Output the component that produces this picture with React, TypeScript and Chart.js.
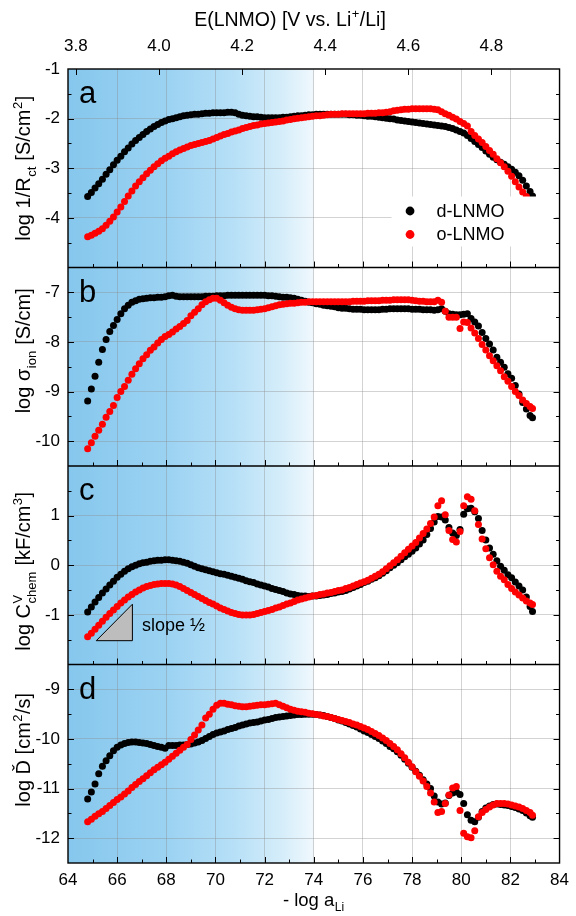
import React, { useEffect, useRef } from 'react';
import { Chart, registerables } from 'chart.js';

Chart.register(...registerables);

const FONT = '"Liberation Sans", Arial, Helvetica, sans-serif';

// -log a_Li of every measured state of charge
const X_LOG_A = [
  64.80, 64.95, 65.10, 65.25, 65.40, 65.55, 65.70, 65.85, 66.00, 66.15,
  66.30, 66.45, 66.60, 66.75, 66.90, 67.05, 67.20, 67.35, 67.50, 67.65,
  67.80, 67.95, 68.10, 68.25, 68.40, 68.55, 68.70, 68.85, 69.00, 69.15,
  69.30, 69.45, 69.60, 69.75, 69.90, 70.05, 70.20, 70.35, 70.50, 70.65,
  70.80, 70.95, 71.10, 71.25, 71.40, 71.55, 71.70, 71.85, 72.00, 72.15,
  72.30, 72.45, 72.60, 72.75, 72.90, 73.05, 73.20, 73.35, 73.50, 73.65,
  73.80, 73.95, 74.10, 74.25, 74.40, 74.55, 74.70, 74.85, 75.00, 75.15,
  75.30, 75.45, 75.60, 75.75, 75.90, 76.05, 76.20, 76.35, 76.50, 76.65,
  76.80, 76.95, 77.10, 77.25, 77.40, 77.55, 77.70, 77.85, 78.00, 78.15,
  78.30, 78.45, 78.60, 78.75, 78.90, 79.05, 79.20, 79.35, 79.50, 79.65,
  79.80, 79.95, 80.10, 80.25, 80.40, 80.55, 80.70, 80.85, 81.00, 81.15,
  81.30, 81.45, 81.60, 81.75, 81.90, 82.05, 82.20, 82.35, 82.50, 82.65,
  82.80, 82.90,
];

// (a) log 1/Rct [S/cm2]
const RCT_D = [
  -3.57, -3.49, -3.40, -3.31, -3.22, -3.12, -3.03, -2.93, -2.84, -2.76,
  -2.67, -2.59, -2.51, -2.44, -2.38, -2.32, -2.26, -2.21, -2.16, -2.12,
  -2.08, -2.05, -2.02, -2.00, -1.98, -1.96, -1.94, -1.93, -1.92, -1.91,
  -1.91, -1.90, -1.89, -1.89, -1.88, -1.88, -1.88, -1.88, -1.87, -1.87,
  -1.88, -1.91, -1.93, -1.94, -1.95, -1.96, -1.96, -1.97, -1.98, -1.98,
  -1.98, -1.98, -1.98, -1.97, -1.97, -1.96, -1.95, -1.94, -1.94, -1.93,
  -1.92, -1.92, -1.91, -1.91, -1.91, -1.91, -1.91, -1.91, -1.91, -1.91,
  -1.91, -1.92, -1.92, -1.93, -1.93, -1.94, -1.95, -1.95, -1.96, -1.97,
  -1.98, -1.99, -2.00, -2.01, -2.03, -2.04, -2.05, -2.06, -2.07, -2.08,
  -2.09, -2.10, -2.11, -2.12, -2.13, -2.14, -2.15, -2.16, -2.18, -2.20,
  -2.23, -2.26, -2.29, -2.34, -2.40, -2.46, -2.52, -2.58, -2.65, -2.72,
  -2.78, -2.83, -2.88, -2.92, -2.97, -3.02, -3.08, -3.15, -3.24, -3.36,
  -3.47, -3.56,
];
const RCT_O = [
  -4.38, -4.35, -4.31, -4.27, -4.22, -4.15, -4.07, -3.98, -3.88, -3.78,
  -3.67, -3.56, -3.46, -3.36, -3.27, -3.19, -3.11, -3.04, -2.97, -2.91,
  -2.85, -2.80, -2.76, -2.71, -2.67, -2.63, -2.60, -2.57, -2.54, -2.52,
  -2.50, -2.48, -2.46, -2.44, -2.41, -2.38, -2.35, -2.32, -2.30, -2.27,
  -2.25, -2.23, -2.20, -2.18, -2.16, -2.14, -2.13, -2.11, -2.10, -2.09,
  -2.08, -2.07, -2.06, -2.05, -2.03, -2.02, -2.00, -1.99, -1.98, -1.97,
  -1.96, -1.95, -1.94, -1.94, -1.93, -1.92, -1.91, -1.91, -1.91, -1.90,
  -1.90, -1.90, -1.90, -1.90, -1.90, -1.90, -1.89, -1.89, -1.89, -1.88,
  -1.88, -1.87, -1.86, -1.84, -1.83, -1.82, -1.81, -1.81, -1.80, -1.80,
  -1.80, -1.80, -1.80, -1.80, -1.81, -1.82, -1.86, -1.90, -1.93, -1.97,
  -2.01, -2.06, -2.10, -2.15, -2.26, -2.34, -2.41, -2.48, -2.56, -2.64,
  -2.72, -2.81, -2.89, -2.97, -3.06, -3.16, -3.27, -3.38, -3.48, -3.57,
  -3.66, -3.78,
];

// (b) log sigma_ion [S/cm]
const SIG_D = [
  -9.19, -8.95, -8.69, -8.41, -8.15, -7.95, -7.79, -7.67, -7.55, -7.43,
  -7.33, -7.26, -7.20, -7.17, -7.14, -7.13, -7.12, -7.11, -7.11, -7.10,
  -7.10, -7.09, -7.07, -7.06, -7.08, -7.09, -7.09, -7.09, -7.09, -7.09,
  -7.09, -7.09, -7.08, -7.08, -7.08, -7.07, -7.07, -7.07, -7.06, -7.06,
  -7.06, -7.06, -7.06, -7.06, -7.06, -7.06, -7.06, -7.06, -7.06, -7.07,
  -7.07, -7.08, -7.09, -7.10, -7.10, -7.11, -7.12, -7.14, -7.16, -7.18,
  -7.20, -7.21, -7.23, -7.24, -7.26, -7.27, -7.28, -7.29, -7.31, -7.32,
  -7.32, -7.33, -7.34, -7.34, -7.34, -7.35, -7.35, -7.35, -7.35, -7.35,
  -7.34, -7.34, -7.33, -7.33, -7.33, -7.33, -7.33, -7.33, -7.34, -7.34,
  -7.34, -7.35, -7.35, -7.35, -7.36, -7.35, -7.33, -7.38, -7.43, -7.44,
  -7.45, -7.45, -7.44, -7.43, -7.53, -7.60, -7.68, -7.81, -7.93, -8.04,
  -8.16, -8.31, -8.41, -8.51, -8.64, -8.73, -8.88, -9.05, -9.22, -9.35,
  -9.48, -9.53,
];
const SIG_O = [
  -10.15, -10.03, -9.90, -9.78, -9.66, -9.52, -9.40, -9.28, -9.12, -9.00,
  -8.90, -8.77, -8.65, -8.54, -8.44, -8.34, -8.26, -8.17, -8.10, -8.02,
  -7.95, -7.89, -7.85, -7.80, -7.74, -7.69, -7.63, -7.57, -7.47, -7.40,
  -7.33, -7.25, -7.19, -7.15, -7.12, -7.12, -7.16, -7.21, -7.26, -7.30,
  -7.33, -7.35, -7.36, -7.36, -7.36, -7.36, -7.35, -7.34, -7.33, -7.31,
  -7.29, -7.27, -7.25, -7.24, -7.23, -7.22, -7.22, -7.21, -7.20, -7.20,
  -7.19, -7.19, -7.19, -7.19, -7.19, -7.19, -7.19, -7.19, -7.19, -7.19,
  -7.19, -7.19, -7.18, -7.18, -7.18, -7.18, -7.17, -7.17, -7.17, -7.17,
  -7.16, -7.16, -7.16, -7.15, -7.15, -7.15, -7.15, -7.15, -7.16, -7.17,
  -7.18, -7.18, -7.19, -7.19, -7.19, -7.16, -7.20, -7.38, -7.50, -7.50,
  -7.50, -7.73, -7.60, -7.61, -7.72, -7.82, -7.93, -8.05, -8.16, -8.28,
  -8.38, -8.48, -8.58, -8.70, -8.79, -8.90, -9.00, -9.08, -9.17, -9.24,
  -9.30, -9.34,
];

// (c) log C_chem^V [kF/cm3]
const CAP_D = [
  -0.94, -0.84, -0.74, -0.65, -0.56, -0.48, -0.40, -0.32, -0.24, -0.18,
  -0.12, -0.07, -0.03, 0.00, 0.03, 0.05, 0.06, 0.08, 0.09, 0.10,
  0.10, 0.11, 0.11, 0.10, 0.09, 0.08, 0.06, 0.04, 0.01, -0.02,
  -0.05, -0.07, -0.09, -0.11, -0.13, -0.15, -0.17, -0.18, -0.20, -0.22,
  -0.24, -0.26, -0.28, -0.31, -0.33, -0.35, -0.38, -0.40, -0.42, -0.44,
  -0.47, -0.49, -0.51, -0.53, -0.56, -0.58, -0.59, -0.61, -0.62, -0.62,
  -0.63, -0.62, -0.62, -0.61, -0.60, -0.59, -0.57, -0.56, -0.54, -0.53,
  -0.51, -0.48, -0.45, -0.42, -0.39, -0.35, -0.32, -0.28, -0.25, -0.21,
  -0.16, -0.11, -0.05, 0.00, 0.05, 0.11, 0.17, 0.22, 0.28, 0.35,
  0.43, 0.51, 0.62, 0.74, 0.87, 0.98, 0.97, 0.91, 0.76, 0.65,
  0.60, 0.72, 1.03, 1.14, 1.15, 1.08, 0.94, 0.70, 0.51, 0.35,
  0.22, 0.09, -0.02, -0.10, -0.19, -0.25, -0.34, -0.42, -0.50, -0.64,
  -0.83, -0.93,
];
const CAP_O = [
  -1.44, -1.37, -1.29, -1.21, -1.13, -1.05, -0.97, -0.90, -0.83, -0.76,
  -0.70, -0.64, -0.59, -0.54, -0.50, -0.46, -0.43, -0.41, -0.39, -0.38,
  -0.37, -0.37, -0.37, -0.38, -0.40, -0.43, -0.47, -0.51, -0.55, -0.59,
  -0.63, -0.67, -0.71, -0.75, -0.78, -0.82, -0.86, -0.89, -0.92, -0.95,
  -0.97, -0.99, -1.00, -1.00, -1.00, -0.99, -0.97, -0.95, -0.93, -0.91,
  -0.89, -0.86, -0.84, -0.81, -0.78, -0.76, -0.73, -0.70, -0.68, -0.66,
  -0.64, -0.62, -0.61, -0.59, -0.58, -0.56, -0.55, -0.53, -0.51, -0.50,
  -0.47, -0.45, -0.42, -0.39, -0.36, -0.33, -0.30, -0.26, -0.22, -0.18,
  -0.13, -0.07, -0.01, 0.05, 0.11, 0.18, 0.25, 0.32, 0.39, 0.46,
  0.55, 0.64, 0.73, 0.84, 0.97, 1.20, 1.30, 1.02, 0.70, 0.52,
  0.47, 0.68, 1.20, 1.38, 1.33, 1.10, 0.82, 0.53, 0.33, 0.15,
  0.01, -0.12, -0.22, -0.29, -0.39, -0.47, -0.54, -0.60, -0.66, -0.72,
  -0.76, -0.79,
];

// (d) log D [cm2/s]
const DIF_D = [
  -11.21, -11.07, -10.91, -10.70, -10.55, -10.44, -10.34, -10.24, -10.17, -10.12,
  -10.09, -10.07, -10.06, -10.06, -10.07, -10.08, -10.09, -10.11, -10.13, -10.15,
  -10.17, -10.19, -10.13, -10.13, -10.13, -10.12, -10.12, -10.11, -10.10, -10.08,
  -10.06, -10.03, -9.99, -9.95, -9.91, -9.88, -9.86, -9.84, -9.81, -9.79,
  -9.77, -9.74, -9.72, -9.70, -9.68, -9.67, -9.66, -9.64, -9.62, -9.61,
  -9.59, -9.57, -9.56, -9.55, -9.54, -9.53, -9.52, -9.51, -9.51, -9.50,
  -9.50, -9.50, -9.51, -9.52, -9.53, -9.55, -9.57, -9.59, -9.62, -9.64,
  -9.67, -9.70, -9.73, -9.76, -9.80, -9.84, -9.87, -9.91, -9.95, -9.99,
  -10.04, -10.09, -10.15, -10.20, -10.26, -10.33, -10.41, -10.49, -10.57, -10.65,
  -10.73, -10.82, -10.91, -11.00, -11.15, -11.27, -11.31, -11.29, -11.14, -11.09,
  -11.07, -11.12, -11.30, -11.53, -11.64, -11.67, -11.58, -11.46, -11.39, -11.35,
  -11.32, -11.31, -11.32, -11.33, -11.34, -11.36, -11.38, -11.41, -11.44, -11.49,
  -11.55, -11.58,
];
const DIF_O = [
  -11.67, -11.62, -11.56, -11.51, -11.46, -11.40, -11.34, -11.28, -11.22, -11.17,
  -11.11, -11.05, -10.98, -10.92, -10.86, -10.80, -10.74, -10.68, -10.62, -10.57,
  -10.52, -10.47, -10.41, -10.35, -10.29, -10.23, -10.17, -10.11, -10.01, -9.92,
  -9.82, -9.72, -9.58, -9.50, -9.40, -9.32, -9.28, -9.28, -9.30, -9.31,
  -9.33, -9.34, -9.35, -9.35, -9.34, -9.33, -9.32, -9.31, -9.31, -9.30,
  -9.29, -9.28, -9.31, -9.34, -9.37, -9.40, -9.42, -9.44, -9.45, -9.46,
  -9.48, -9.49, -9.51, -9.52, -9.54, -9.55, -9.57, -9.59, -9.61, -9.63,
  -9.65, -9.67, -9.70, -9.72, -9.75, -9.78, -9.81, -9.85, -9.89, -9.93,
  -9.98, -10.03, -10.09, -10.15, -10.22, -10.30, -10.38, -10.47, -10.56, -10.66,
  -10.75, -10.85, -10.96, -11.09, -11.27, -11.48, -11.46, -11.30, -11.13, -10.99,
  -10.96, -11.44, -11.90, -11.97, -11.99, -11.85, -11.57, -11.48, -11.42, -11.37,
  -11.33, -11.30, -11.30, -11.30, -11.31, -11.33, -11.35, -11.37, -11.40, -11.44,
  -11.48, -11.54,
];

// axes
const X_RANGE = [64, 84];
const E_RANGE = [3.781, 4.964]; // potential at the two ends of the -log a_Li axis
const E_TICKS = [3.8, 4.0, 4.2, 4.4, 4.6, 4.8];
const RANGE_A = [-5, -1];
const RANGE_B = [-10.5, -6.5];
const RANGE_C = [-2, 2];
const RANGE_D = [-12.5, -8.5];
const LABELS_A = [-1, -2, -3, -4];
const LABELS_B = [-7, -8, -9, -10];
const LABELS_C = [1, 0, -1];
const LABELS_D = [-9, -10, -11, -12];
const BLUE_END = 74; // shaded region ends here

// slope-1/2 guide triangle in panel c
const TRI_X = [65.15, 66.62];
const TRI_Y0 = -1.52;
const TRI_SLOPE = 0.5;

const SERIES = ['d-LNMO', 'o-LNMO'];
const COLORS = ['#000000', '#ff0000'];

type Seg = { t?: string; sub?: string; sup?: string };

const PANELS = [
  {
    id: 'yA', letter: 'a', range: RANGE_A, labels: LABELS_A, d: RCT_D, o: RCT_O, shift: 0,
    title: [{ t: 'log 1/R' }, { sub: 'ct' }, { t: ' [S/cm' }, { sup: '2' }, { t: ']' }] as Seg[],
  },
  {
    id: 'yB', letter: 'b', range: RANGE_B, labels: LABELS_B, d: SIG_D, o: SIG_O, shift: -16,
    title: [{ t: 'log \u03c3' }, { sub: 'ion' }, { t: ' [S/cm]' }] as Seg[],
  },
  {
    id: 'yC', letter: 'c', range: RANGE_C, labels: LABELS_C, d: CAP_D, o: CAP_O, shift: 6,
    title: [{ t: 'log C' }, { sup: 'V', sub: 'chem' }, { t: ' [kF/cm' }, { sup: '3' }, { t: ']' }] as Seg[],
  },
  {
    id: 'yD', letter: 'd', range: RANGE_D, labels: LABELS_D, d: DIF_D, o: DIF_O, shift: -14,
    title: [{ t: 'log \u010e [cm' }, { sup: '2' }, { t: '/s]' }] as Seg[],
  },
];

const TOP_TITLE: Seg[] = [{ t: 'E(LNMO) [V vs. Li' }, { sup: '+' }, { t: '/Li]' }];
const BOTTOM_TITLE: Seg[] = [{ t: '- log a' }, { sub: 'Li' }];

const GRID = 'rgba(140,140,140,0.38)';
const CLEAR = 'rgba(0,0,0,0)';

function segWidth(ctx: CanvasRenderingContext2D, s: Seg, size: number, small: number) {
  if (s.t !== undefined) {
    ctx.font = `${size}px ${FONT}`;
    return ctx.measureText(s.t).width;
  }
  ctx.font = `${small}px ${FONT}`;
  const a = s.sup ? ctx.measureText(s.sup).width : 0;
  const b = s.sub ? ctx.measureText(s.sub).width : 0;
  return Math.max(a, b) + 1;
}

function drawRich(ctx: CanvasRenderingContext2D, segs: Seg[], cx: number, y: number, size: number) {
  const small = Math.round(size * 0.66);
  const total = segs.reduce((w, s) => w + segWidth(ctx, s, size, small), 0);
  let x = cx - total / 2;
  ctx.textAlign = 'left';
  ctx.textBaseline = 'alphabetic';
  for (const s of segs) {
    const w = segWidth(ctx, s, size, small);
    if (s.t !== undefined) {
      ctx.font = `${size}px ${FONT}`;
      ctx.fillText(s.t, x, y);
    } else {
      ctx.font = `${small}px ${FONT}`;
      if (s.sup) ctx.fillText(s.sup, x + 0.5, y - size * 0.42);
      if (s.sub) ctx.fillText(s.sub, x + 0.5, y + size * 0.28);
    }
    x += w;
  }
}

const decor = {
  id: 'decor',
  beforeDraw(chart: any) {
    const { ctx, chartArea: a, scales } = chart;
    const xEnd = scales.x.getPixelForValue(BLUE_END);
    const g = ctx.createLinearGradient(a.left, 0, xEnd, 0);
    g.addColorStop(0, '#86c7ed');
    g.addColorStop(0.4, '#9bd2f2');
    g.addColorStop(0.68, '#b7e0f7');
    g.addColorStop(0.88, '#d7eefa');
    g.addColorStop(1, '#f0f8fd');
    ctx.save();
    ctx.fillStyle = g;
    ctx.fillRect(a.left, a.top, xEnd - a.left, a.bottom - a.top);
    ctx.restore();
  },
  afterDraw(chart: any) {
    const { ctx, chartArea: a, scales } = chart;
    const x = scales.x;
    const top = scales.xTop;
    ctx.save();

    // legend in panel a
    const pa = scales.yA;
    ctx.fillStyle = '#ffffff';
    ctx.fillRect(a.right - 168, pa.bottom - 71, 164, 50);
    SERIES.forEach((name, i) => {
      const cy = pa.bottom - 56.5 + i * 23.5;
      ctx.fillStyle = COLORS[i];
      ctx.beginPath();
      ctx.arc(a.right - 149.5, cy, 4.4, 0, Math.PI * 2);
      ctx.fill();
      ctx.fillStyle = '#000';
      ctx.font = `18px ${FONT}`;
      ctx.textAlign = 'left';
      ctx.textBaseline = 'middle';
      ctx.fillText(name, a.right - 123, cy + 1);
    });

    // slope triangle in panel c
    const yc = scales.yC;
    const tx0 = x.getPixelForValue(TRI_X[0]);
    const tx1 = x.getPixelForValue(TRI_X[1]);
    const ty0 = yc.getPixelForValue(TRI_Y0);
    const ty1 = yc.getPixelForValue(TRI_Y0 + TRI_SLOPE * (TRI_X[1] - TRI_X[0]));
    ctx.beginPath();
    ctx.moveTo(tx0, ty0);
    ctx.lineTo(tx1, ty0);
    ctx.lineTo(tx1, ty1);
    ctx.closePath();
    ctx.fillStyle = '#bdbdbd';
    ctx.fill();
    ctx.strokeStyle = '#000';
    ctx.lineWidth = 1;
    ctx.stroke();
    ctx.fillStyle = '#000';
    ctx.font = `18px ${FONT}`;
    ctx.textAlign = 'left';
    ctx.textBaseline = 'alphabetic';
    ctx.fillText('slope \u00bd', tx1 + 9.5, ty0 - 10);

    // inward tick marks
    ctx.strokeStyle = '#000';
    ctx.lineWidth = 1;
    ctx.beginPath();
    PANELS.forEach((p) => {
      const s = scales[p.id];
      for (const t of s.ticks) {
        const v = t.value;
        if (v <= s.min || v >= s.max) continue;
        const py = Math.round(s.getPixelForValue(v)) + 0.5;
        const len = Number.isInteger(v) ? 6 : 3.5;
        ctx.moveTo(a.left, py);
        ctx.lineTo(a.left + len, py);
        ctx.moveTo(a.right, py);
        ctx.lineTo(a.right - len, py);
      }
      for (const t of x.ticks) {
        const v = t.value;
        if (v <= X_RANGE[0] || v >= X_RANGE[1]) continue;
        const px = Math.round(x.getPixelForValue(v)) + 0.5;
        const len = v % 2 === 0 ? 6 : 3.5;
        ctx.moveTo(px, s.bottom);
        ctx.lineTo(px, s.bottom - len);
      }
    });
    for (const t of top.ticks) {
      const px = Math.round(top.getPixelForValue(t.value)) + 0.5;
      ctx.moveTo(px, a.top);
      ctx.lineTo(px, a.top + 6);
    }
    ctx.stroke();

    // frame and panel separators
    ctx.lineWidth = 1.4;
    ctx.strokeRect(a.left, a.top, a.right - a.left, a.bottom - a.top);
    ctx.beginPath();
    PANELS.slice(0, 3).forEach((p) => {
      const yb = scales[p.id].bottom;
      ctx.moveTo(a.left, yb);
      ctx.lineTo(a.right, yb);
    });
    ctx.stroke();

    // panel letters and y titles
    ctx.fillStyle = '#000';
    PANELS.forEach((p) => {
      const s = scales[p.id];
      ctx.font = `31px ${FONT}`;
      ctx.textAlign = 'left';
      ctx.textBaseline = 'alphabetic';
      ctx.fillText(p.letter, a.left + 11, s.top + 34);
      ctx.save();
      ctx.translate(30, (s.top + s.bottom) / 2 + p.shift);
      ctx.rotate(-Math.PI / 2);
      drawRich(ctx, p.title, 0, 0, 20);
      ctx.restore();
    });

    drawRich(ctx, TOP_TITLE, a.left + 222, 26, 19.5);
    drawRich(ctx, BOTTOM_TITLE, (a.left + a.right) / 2, 906, 18.5);
    ctx.restore();
  },
};

function halfSteps(lo: number, hi: number) {
  const out: { value: number }[] = [];
  for (let k = Math.round(lo * 2); k <= Math.round(hi * 2); k++) out.push({ value: k / 2 });
  return out;
}

function panelScale(p: any, weight: number) {
  const [min, max] = p.range;
  return {
    type: 'linear',
    axis: 'y',
    position: 'left',
    stack: 'panels',
    stackWeight: 1,
    weight,
    min,
    max,
    afterBuildTicks: (s: any) => {
      s.ticks = halfSteps(min, max);
    },
    afterFit: (s: any) => {
      s.width = 68;
    },
    ticks: {
      autoSkip: false,
      padding: 8,
      color: '#000',
      font: { family: FONT, size: 17 },
      callback: (v: number) => (p.labels.includes(v) ? String(v) : ''),
    },
    grid: {
      drawTicks: false,
      color: (c: any) => {
        const v = c.tick && c.tick.value;
        return Number.isInteger(v) && v > min && v < max ? GRID : CLEAR;
      },
    },
    border: { display: false },
  };
}

export default function App() {
  const ref = useRef<HTMLCanvasElement | null>(null);

  useEffect(() => {
    if (!ref.current) return;
    const datasets: any[] = [];
    PANELS.forEach((p) => {
      [p.d, p.o].forEach((vals, i) => {
        datasets.push({
          label: `${SERIES[i]} ${p.letter}`,
          yAxisID: p.id,
          xAxisID: 'x',
          data: X_LOG_A.map((xv, k) => ({ x: xv, y: vals[k] })),
          backgroundColor: COLORS[i],
          borderColor: COLORS[i],
          pointRadius: 3.5,
          pointBorderWidth: 0,
          showLine: false,
          order: i === 0 ? 1 : 0,
        });
      });
    });

    const scales: any = {
      x: {
        type: 'linear',
        position: 'bottom',
        min: X_RANGE[0],
        max: X_RANGE[1],
        afterBuildTicks: (s: any) => {
          const t = [];
          for (let v = X_RANGE[0]; v <= X_RANGE[1]; v++) t.push({ value: v });
          s.ticks = t;
        },
        afterFit: (s: any) => {
          s.height = 53;
        },
        ticks: {
          autoSkip: false,
          maxRotation: 0,
          padding: 7,
          color: '#000',
          font: { family: FONT, size: 17 },
          callback: (v: number) => (v % 2 === 0 ? String(v) : ''),
        },
        grid: {
          drawTicks: false,
          color: (c: any) => {
            const v = c.tick && c.tick.value;
            return v % 2 === 0 && v > X_RANGE[0] && v < X_RANGE[1] ? GRID : CLEAR;
          },
        },
        border: { display: false },
      },
      xTop: {
        type: 'linear',
        axis: 'x',
        position: 'top',
        min: E_RANGE[0],
        max: E_RANGE[1],
        afterBuildTicks: (s: any) => {
          s.ticks = E_TICKS.map((v) => ({ value: v }));
        },
        afterFit: (s: any) => {
          s.height = 69;
        },
        ticks: {
          autoSkip: false,
          maxRotation: 0,
          padding: 12,
          color: '#000',
          font: { family: FONT, size: 17 },
          callback: (v: number) => v.toFixed(1),
        },
        grid: { display: false, drawTicks: false },
        border: { display: false },
      },
    };
    PANELS.forEach((p, i) => {
      scales[p.id] = panelScale(p, PANELS.length - i);
    });

    const chart = new Chart(ref.current, {
      type: 'scatter',
      data: { datasets },
      options: {
        responsive: false,
        maintainAspectRatio: false,
        animation: false,
        events: [],
        layout: { padding: { left: 0, right: 10, top: 0, bottom: 0 } },
        plugins: { legend: { display: false }, tooltip: { enabled: false } },
        scales,
      },
      plugins: [decor],
    } as any);
    return () => chart.destroy();
  }, []);

  return (
    <div style={{ position: 'fixed', left: 0, top: 0, width: 576, height: 916, background: '#fff' }}>
      <canvas ref={ref} width={576} height={916} style={{ width: 576, height: 916, display: 'block' }} />
    </div>
  );
}
